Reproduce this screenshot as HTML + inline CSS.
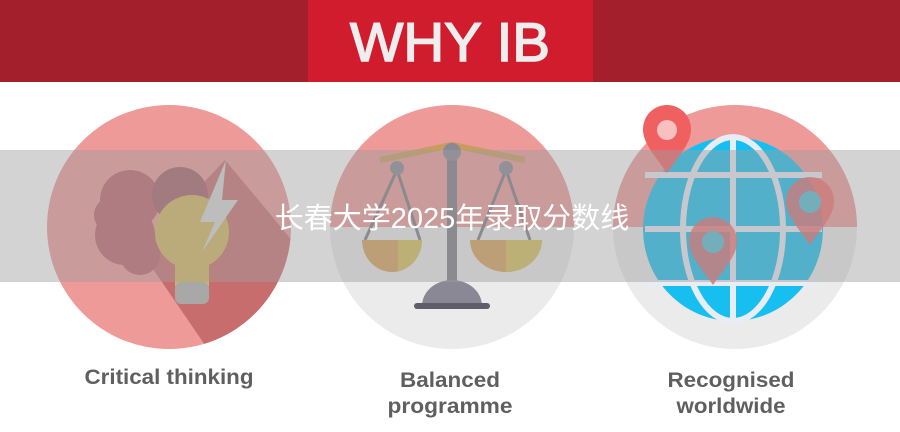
<!DOCTYPE html>
<html><head><meta charset="utf-8"><style>
html,body{margin:0;padding:0;background:#fff;}
svg{display:block}
</style></head><body>
<svg width="900" height="432" viewBox="0 0 900 432" xmlns="http://www.w3.org/2000/svg">
<rect x="0" y="0" width="900" height="82" fill="#a31f2c"/>
<rect x="308" y="0" width="285" height="82" fill="#d11c2e"/>
<text x="450" y="61" text-anchor="middle" font-family="Liberation Sans, sans-serif" font-size="55" fill="#eeeeee" stroke="#eeeeee" stroke-width="1.5" textLength="200" lengthAdjust="spacingAndGlyphs">WHY IB</text>
<defs>
<clipPath id="c1"><circle cx="169" cy="227" r="122"/></clipPath>
<clipPath id="c2"><circle cx="452" cy="227" r="122"/></clipPath>
<clipPath id="c3"><circle cx="735" cy="227" r="122"/></clipPath>
</defs>
<!-- left -->
<circle cx="169" cy="227" r="122" fill="#ed9a98"/>
<polygon clip-path="url(#c1)" points="225,160 300,250 300,360 205,345 140,250" fill="#c86d6d"/>
<circle cx="130" cy="200" r="30" fill="#bc626a"/>
<circle cx="112" cy="215" r="18" fill="#bc626a"/>
<circle cx="125" cy="235" r="30" fill="#bc626a"/>
<circle cx="140" cy="255" r="20" fill="#bc626a"/>
<circle cx="180" cy="195" r="28" fill="#a56068"/>
<circle cx="192" cy="232" r="37" fill="#d6b75e"/>
<rect x="175" y="250" width="34" height="36" fill="#d6b75e"/>
<rect x="175" y="282" width="34" height="22" rx="6" fill="#a8a8a8"/>
<polygon points="226,160 200,222 215,222 202,252 238,200 222,200" fill="#d8d8d8"/>
<!-- middle -->
<circle cx="452" cy="227" r="122" fill="#ebebeb"/>
<rect x="320" y="100" width="270" height="127" fill="#ed9a98" clip-path="url(#c2)"/>
<path d="M380,160 L452,145 L525,160" stroke="#c89b5e" stroke-width="6" fill="none"/>
<rect x="447" y="150" width="10" height="135" fill="#7d7a87"/>
<circle cx="452" cy="152" r="9" fill="#8a8894"/>
<path d="M422,306 a30,26 0 0 1 60,0 z" fill="#8a8894"/>
<rect x="414" y="303" width="76" height="6" rx="3" fill="#5f5d6a"/>
<path d="M397,170 L365,240 M397,170 L420,240 M506,170 L478,240 M506,170 L530,240" stroke="#7d7a87" stroke-width="3"/>
<circle cx="397" cy="168" r="7" fill="#8a8894"/><circle cx="506" cy="168" r="7" fill="#8a8894"/>
<path d="M362,240 h60 a30,32 0 0 1 -60,0z" fill="#d6a057"/>
<path d="M398,240 h24 a30,32 0 0 1 -24,31z" fill="#d6bf57"/>
<path d="M470,240 h72 a36,32 0 0 1 -72,0z" fill="#d6a057"/>
<path d="M506,240 h36 a36,32 0 0 1 -36,32z" fill="#d6bf57"/>
<!-- right -->
<circle cx="735" cy="227" r="122" fill="#ebebeb"/>
<rect x="600" y="100" width="270" height="127" fill="#ed9a98" clip-path="url(#c3)"/>
<ellipse cx="733" cy="229" rx="90" ry="92" fill="#17bff0"/>
<g stroke="#e8ecf4" stroke-width="6" fill="none">
<ellipse cx="733" cy="229" rx="50" ry="92"/>
<line x1="733" y1="137" x2="733" y2="321"/>
<line x1="645" y1="175" x2="822" y2="175"/>
<line x1="645" y1="229" x2="822" y2="229"/>
<line x1="645" y1="283" x2="822" y2="283"/>
</g>
<g fill="#f06060">
<path d="M667,173 c-14,-20 -24,-30 -24,-44 a24,24 0 0 1 48,0 c0,14 -10,24 -24,44z"/>
<path d="M810,245 c-14,-20 -24,-30 -24,-44 a24,24 0 0 1 48,0 c0,14 -10,24 -24,44z" fill-opacity="0.8"/>
<path d="M713,285 c-14,-20 -24,-30 -24,-44 a24,24 0 0 1 48,0 c0,14 -10,24 -24,44z" fill-opacity="0.8"/>
</g>
<circle cx="667" cy="130" r="10" fill="#f9c0c0"/>
<circle cx="810" cy="202" r="11" fill="#55bcd4"/>
<circle cx="713" cy="242" r="11" fill="#55bcd4"/>
<!-- banner -->
<rect x="0" y="150" width="900" height="132" fill="#9d9d9d" fill-opacity="0.45"/>
<text x="452" y="228" text-anchor="middle" font-family="Liberation Sans, Noto Sans CJK SC, sans-serif" font-size="29" fill="#ffffff">长春大学2025年录取分数线</text>
<g font-family="Liberation Sans, sans-serif" font-size="21" font-weight="bold" fill="#5f5f5f" text-anchor="middle" lengthAdjust="spacingAndGlyphs">
<text x="169" y="384" textLength="169" lengthAdjust="spacingAndGlyphs">Critical thinking</text>
<text x="450" y="387" textLength="100" lengthAdjust="spacingAndGlyphs">Balanced</text>
<text x="450" y="413" textLength="125" lengthAdjust="spacingAndGlyphs">programme</text>
<text x="731" y="387" textLength="127" lengthAdjust="spacingAndGlyphs">Recognised</text>
<text x="731" y="413" textLength="109" lengthAdjust="spacingAndGlyphs">worldwide</text>
</g>
</svg>
</body></html>
